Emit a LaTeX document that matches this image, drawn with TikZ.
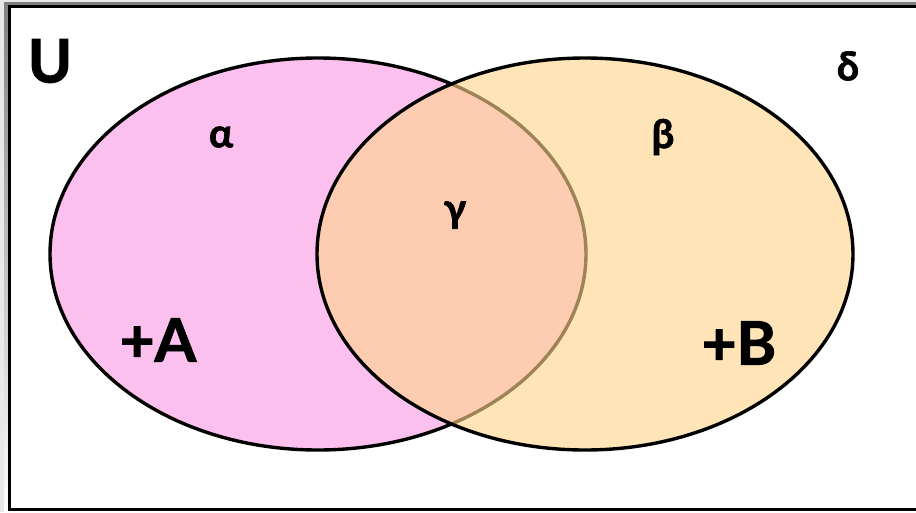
\documentclass[tikz,border=0pt]{standalone}
\usepackage{fontspec}
\setmainfont{Lato}[BoldFeatures={FakeBold=1.6}]
\usetikzlibrary{shapes.geometric}
\definecolor{setpink}{RGB}{251,192,238}
\definecolor{setyellow}{RGB}{255,212,140}
\definecolor{shade}{RGB}{205,210,218}
\tikzset{
  setshape/.style={ellipse, draw=black, line width=3.4pt, minimum width=536pt, minimum height=392pt, inner sep=0pt},
  greek/.style={font=\fontsize{40}{40}\selectfont\bfseries},
  big/.style={font=\fontsize{60}{60}\selectfont\bfseries}
}
\begin{document}
\begin{tikzpicture}[x=1pt,y=-1pt]
\useasboundingbox (0,0) rectangle (916,512);
\fill[shade!50] (0,0) rectangle (916,512);
\fill[shade] (4,2) rectangle (930,514);
\fill[white, draw=black, line width=3pt] (9,6) rectangle (930,509);
\node[setshape, fill=setpink] (setA) at (318,254) {};
\node[setshape, fill=setyellow, fill opacity=0.62, draw opacity=1] (setB) at (585,254) {};
\node[big] (univ) at (50,61) {U};
\node[greek] (delta) at (848,66) {δ};
\node[greek] (alpha) at (221,137) {α};
\node[greek] (beta) at (663,137) {β};
\node[greek] (gamma) at (455,215) {γ};
\node[big] (plusA) at (158,340) {+A};
\node[big] (plusB) at (739,343) {+B};
\end{tikzpicture}
\end{document}
